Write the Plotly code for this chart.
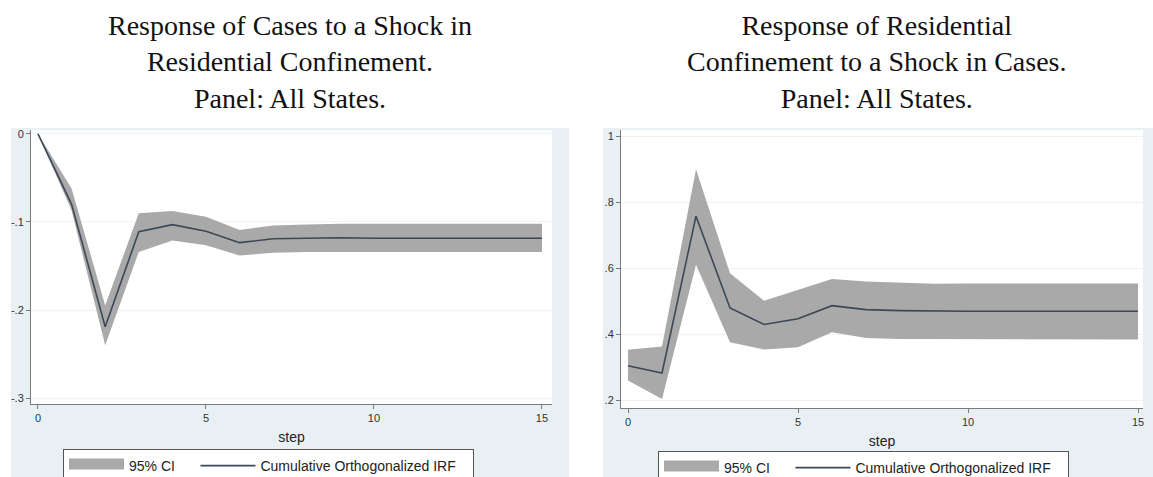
import plotly.graph_objects as go

# ---------------- data ----------------
steps = list(range(16))

left_irf = [0.0, -0.080, -0.219, -0.111, -0.103, -0.1105, -0.1235, -0.119, -0.1185,
            -0.118, -0.1185, -0.1185, -0.1185, -0.1185, -0.1185, -0.1185]
left_upper = [0.0, -0.062, -0.195, -0.090, -0.0875, -0.094, -0.109, -0.104, -0.103,
              -0.102, -0.102, -0.102, -0.102, -0.102, -0.102, -0.102]
left_lower = [0.0, -0.087, -0.240, -0.134, -0.121, -0.1265, -0.138, -0.135, -0.134,
              -0.134, -0.134, -0.134, -0.134, -0.134, -0.134, -0.134]

right_irf = [0.304, 0.282, 0.757, 0.479, 0.429, 0.446, 0.486, 0.474, 0.471,
             0.469, 0.469, 0.469, 0.469, 0.469, 0.469, 0.469]
right_upper = [0.352, 0.362, 0.899, 0.584, 0.501, 0.534, 0.567, 0.559, 0.555,
               0.552, 0.553, 0.553, 0.553, 0.553, 0.553, 0.553]
right_lower = [0.259, 0.203, 0.610, 0.375, 0.353, 0.360, 0.405, 0.388, 0.385,
               0.383, 0.383, 0.383, 0.383, 0.383, 0.383, 0.383]

left_yticks = [0, -0.1, -0.2, -0.3]
left_yticktext = ["0", "-.1", "-.2", "-.3"]
right_yticks = [0.2, 0.4, 0.6, 0.8, 1.0]
right_yticktext = [".2", ".4", ".6", ".8", "1"]
xticks = [0, 5, 10, 15]

left_title = "Response of Cases to a Shock in<br>Residential Confinement.<br>Panel: All States."
right_title = "Response of Residential<br>Confinement to a Shock in Cases.<br>Panel: All States."
ci_name = "95% CI"
irf_name = "Cumulative Orthogonalized IRF"
xtitle = "step"

# ---------------- style ----------------
W, H = 1153, 477
BAND = "#a9a9a9"
LINE = "#3d4759"
BG = "#e9f0f3"
AXIS = "#7a7a7a"
GRID = "#edf2f4"
SANS = "Arial, Liberation Sans, sans-serif"
SERIF = "Times New Roman, Liberation Serif, serif"
NB = "\u00a0"


def px_x(p):
    return p / W


def px_y(p):
    return (H - p) / H


fig = go.Figure()

panels = [
    dict(xa="x", ya="y", leg="legend", up=left_upper, lo=left_lower, irf=left_irf),
    dict(xa="x2", ya="y2", leg="legend2", up=right_upper, lo=right_lower, irf=right_irf),
]
for p in panels:
    fig.add_trace(go.Scatter(
        x=steps + steps[::-1], y=p["up"] + p["lo"][::-1],
        fill="toself", fillcolor=BAND, mode="lines", line=dict(width=0, color=BAND),
        name=ci_name, showlegend=False, xaxis=p["xa"], yaxis=p["ya"], hoverinfo="skip"))
    # legend swatch for the band (legend-only entry)
    fig.add_trace(go.Scatter(
        x=[None], y=[None], mode="lines", fill="toself", fillcolor=BAND,
        line=dict(width=10, color=BAND), name=ci_name + NB * 4,
        legend=p["leg"], xaxis=p["xa"], yaxis=p["ya"]))
    fig.add_trace(go.Scatter(
        x=steps, y=p["irf"], mode="lines", line=dict(color=LINE, width=1.6),
        name=irf_name + NB * 3, legend=p["leg"], xaxis=p["xa"], yaxis=p["ya"]))

axis_common = dict(showline=True, linecolor=AXIS, linewidth=1, ticks="outside",
                   ticklen=4, tickcolor=AXIS, zeroline=False,
                   tickfont=dict(family=SANS, size=11, color="#333"))
xtitle_d = dict(text=xtitle, font=dict(family=SANS, size=14, color="#222"), standoff=8)

legend_common = dict(orientation="h", xanchor="left", yanchor="top",
                     bgcolor="white", bordercolor="#555", borderwidth=1,
                     font=dict(family=SANS, size=14, color="#222"), itemwidth=55,
                     traceorder="normal")

fig.update_layout(
    width=W, height=H,
    margin=dict(l=0, r=0, t=0, b=0, autoexpand=False),
    paper_bgcolor="white", plot_bgcolor="rgba(0,0,0,0)",
    showlegend=True,
    xaxis=dict(domain=[px_x(31), px_x(552)], range=[-0.208, 15.298], tickvals=xticks,
               showgrid=False, anchor="y", title=xtitle_d, **axis_common),
    yaxis=dict(domain=[px_y(404), px_y(130)], range=[-0.3068, 0.0045],
               tickvals=left_yticks, ticktext=left_yticktext, showgrid=True,
               gridcolor=GRID, anchor="x", **axis_common),
    xaxis2=dict(domain=[px_x(621), px_x(1143)], range=[-0.206, 15.147], tickvals=xticks,
                showgrid=False, anchor="y2", title=xtitle_d, **axis_common),
    yaxis2=dict(domain=[px_y(408), px_y(130)], range=[0.1758, 1.0182],
                tickvals=right_yticks, ticktext=right_yticktext, showgrid=True,
                gridcolor=GRID, anchor="x2", **axis_common),
    legend=dict(x=px_x(63), y=px_y(449), **legend_common),
    legend2=dict(x=px_x(658), y=px_y(451), **legend_common),
)

shapes = [
    dict(type="rect", xref="paper", yref="paper", x0=px_x(11), x1=px_x(569),
         y0=0, y1=px_y(128), fillcolor=BG, line=dict(width=0), layer="below"),
    dict(type="rect", xref="paper", yref="paper", x0=px_x(603), x1=1,
         y0=0, y1=px_y(128), fillcolor=BG, line=dict(width=0), layer="below"),
    dict(type="rect", xref="x domain", yref="y domain", x0=0, x1=1, y0=0, y1=1,
         fillcolor="white", line=dict(width=0), layer="below"),
    dict(type="rect", xref="x2 domain", yref="y2 domain", x0=0, x1=1, y0=0, y1=1,
         fillcolor="white", line=dict(width=0), layer="below"),
]
fig.update_layout(shapes=shapes)

for txt, cx in [(left_title, 290), (right_title, 877)]:
    fig.add_annotation(text=txt, xref="paper", yref="paper", x=px_x(cx), y=px_y(8),
                       xanchor="center", yanchor="top", showarrow=False, align="center",
                       font=dict(family=SERIF, size=28, color="#111"))

fig.write_html("out.html",
               config={"displayModeBar": False},
               post_script="document.body.style.margin='0';document.body.style.padding='0';")
